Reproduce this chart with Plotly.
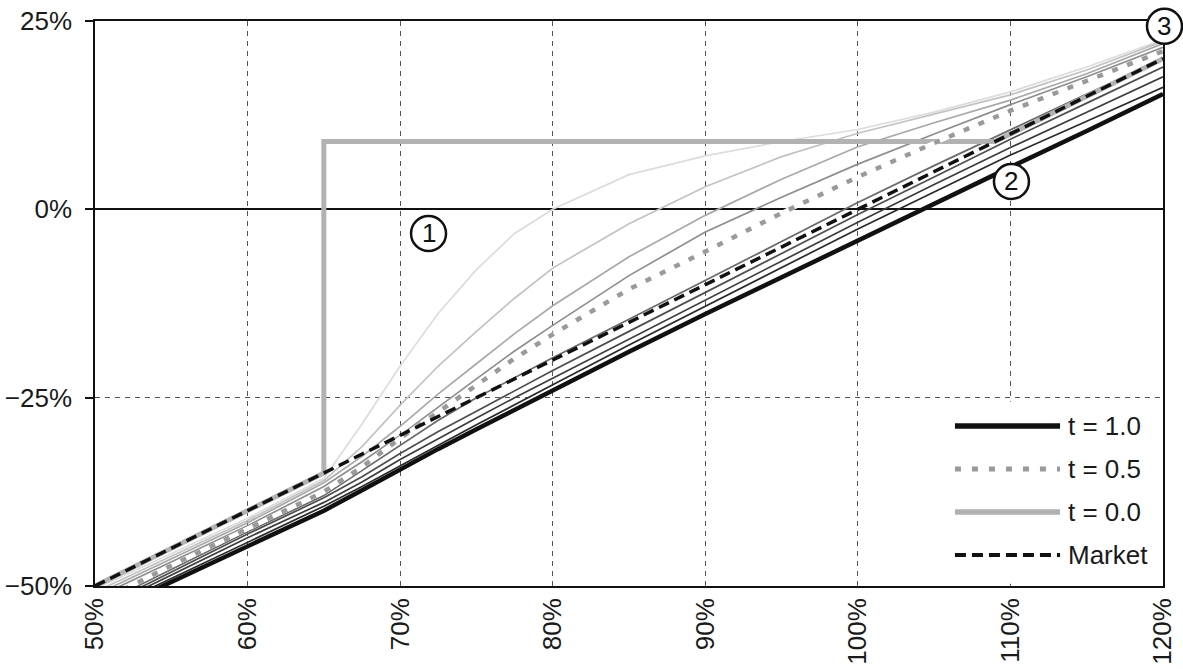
import plotly.graph_objects as go

# ---------------- data ----------------
spot_pct = [50, 55, 60, 65, 67.5, 70, 72.5, 75, 77.5, 80, 85, 90, 95, 100, 105, 110, 115, 120]

t_1_0 = [-54.2, -49.5, -44.8, -40.0, -37.3, -34.5, -31.8, -29.2, -26.6, -24.0, -18.9, -13.9, -9.0, -4.2, 0.7, 5.6, 10.4, 15.3]
t_0_9 = [-53.8, -49.0, -44.1, -39.4, -36.8, -34.0, -31.3, -28.6, -25.9, -23.3, -18.0, -12.9, -7.7, -2.6, 2.3, 7.2, 11.7, 16.2]
t_0_8 = [-53.5, -48.6, -43.6, -38.9, -36.2, -33.2, -30.4, -27.7, -25.0, -22.4, -17.2, -12.0, -6.8, -1.7, 3.3, 8.2, 12.9, 17.6]
t_0_7 = [-53.2, -48.2, -43.1, -38.3, -35.5, -32.4, -29.5, -26.8, -24.1, -21.4, -16.2, -11.0, -5.8, -0.7, 4.3, 9.3, 14.1, 18.9]
t_0_6 = [-52.8, -47.8, -42.8, -38.0, -34.7, -31.3, -28.0, -25.0, -22.3, -19.7, -14.6, -9.4, -4.2, 0.9, 5.8, 10.6, 15.3, 19.9]
t_0_5 = [-52.4, -47.3, -42.4, -37.5, -34.2, -30.4, -26.9, -23.3, -19.8, -16.6, -10.6, -5.6, -0.5, 4.3, 8.8, 13.1, 17.0, 21.0]
t_0_4 = [-51.6, -46.8, -42.0, -36.8, -33.5, -30.0, -26.2, -22.5, -18.8, -15.4, -8.8, -3.0, 1.6, 6.0, 10.0, 13.9, 17.6, 21.5]
t_0_3 = [-51.2, -46.4, -41.6, -36.3, -32.8, -28.8, -24.5, -20.5, -16.5, -12.8, -6.3, -0.8, 4.0, 8.3, 11.5, 14.5, 18.0, 22.0]
t_0_2 = [-50.8, -46.0, -41.3, -36.0, -31.5, -26.0, -20.8, -16.2, -11.8, -7.8, -1.9, 3.0, 7.0, 10.1, 12.7, 15.2, 18.5, 22.3]
t_0_1 = [-50.4, -45.7, -41.0, -35.7, -28.5, -20.8, -13.8, -8.0, -3.2, 0.0, 4.6, 7.1, 9.0, 10.6, 12.9, 15.6, 18.9, 22.5]

t_0_0_x = [50, 65, 65, 109, 120]
t_0_0_y = [-50, -35, 9, 9, 20]

market_x = [50, 120]
market_y = [-50, 20]

x_ticks = [50, 60, 70, 80, 90, 100, 110, 120]
x_tick_labels = ["50%", "60%", "70%", "80%", "90%", "100%", "110%", "120%"]
y_ticks = [-50, -25, 0, 25]
y_tick_labels = ["\u221250%", "\u221225%", "0%", "25%"]

legend_labels = ["t = 1.0", "t = 0.5", "t = 0.0", "Market"]
marker_labels = ["1", "2", "3"]

# ---------------- styling ----------------
FONT = "Liberation Sans, Arial, Helvetica, sans-serif"
FS = 26
fig = go.Figure()

thin_curves = [
    (t_0_1, "#dcdcdc"),
    (t_0_2, "#c2c2c2"),
    (t_0_3, "#a8a8a8"),
    (t_0_4, "#8e8e8e"),
    (t_0_6, "#6a6a6a"),
    (t_0_7, "#4e4e4e"),
    (t_0_8, "#3c3c3c"),
    (t_0_9, "#2a2a2a"),
]
for ys, col in thin_curves:
    fig.add_trace(go.Scatter(x=spot_pct, y=ys, mode="lines",
                             line=dict(color=col, width=1.7), showlegend=False, hoverinfo="skip"))

# t = 0.0 payoff (thick gray)
fig.add_trace(go.Scatter(x=t_0_0_x, y=t_0_0_y, mode="lines",
                         line=dict(color="#b2b2b5", width=5), showlegend=False, hoverinfo="skip"))
# t = 1.0 (thick black)
fig.add_trace(go.Scatter(x=spot_pct, y=t_1_0, mode="lines",
                         line=dict(color="#111111", width=4.5), showlegend=False, hoverinfo="skip"))
# t = 0.5 (dotted, white underlay)
fig.add_trace(go.Scatter(x=spot_pct, y=t_0_5, mode="lines",
                         line=dict(color="white", width=4.5), showlegend=False, hoverinfo="skip"))
fig.add_trace(go.Scatter(x=spot_pct, y=t_0_5, mode="lines",
                         line=dict(color="#9a9a9a", width=4.5, dash="6px,10px"),
                         showlegend=False, hoverinfo="skip"))
# Market (dashed black)
fig.add_trace(go.Scatter(x=market_x, y=market_y, mode="lines",
                         line=dict(color="#111111", width=3.5, dash="11px,6px"),
                         showlegend=False, hoverinfo="skip"))

# ---------------- custom legend ----------------
shapes = []
annotations = []
shapes.append(dict(type="rect", xref="paper", yref="paper", x0=0.79, x1=0.997, y0=0.004, y1=0.326,
                   fillcolor="white", line=dict(width=0), layer="above"))
leg_rows = [0.2832, 0.2071, 0.1310, 0.0549]
leg_styles = [
    dict(color="#111111", width=5.5),
    dict(color="#9a9a9a", width=5, dash="6px,11px"),
    dict(color="#b2b2b5", width=5.5),
    dict(color="#111111", width=4, dash="11px,6px"),
]
for yrow, sty, lab in zip(leg_rows, leg_styles, legend_labels):
    shapes.append(dict(type="line", xref="paper", yref="paper", x0=0.8052, x1=0.9036,
                       y0=yrow, y1=yrow, line=sty, layer="above"))
    annotations.append(dict(xref="paper", yref="paper", x=0.909, y=yrow, text=lab,
                            showarrow=False, xanchor="left", yanchor="middle",
                            font=dict(family=FONT, size=FS, color="#1a1a1a")))

# ---------------- circled markers ----------------
circ_pos = [(0.3123, 0.6239), (0.8581, 0.7161), (1.0014, 0.9906)]
for (px, py), lab in zip(circ_pos, marker_labels):
    shapes.append(dict(type="circle", xref="paper", yref="paper",
                       xsizemode="pixel", ysizemode="pixel", xanchor=px, yanchor=py,
                       x0=-17.5, x1=17.5, y0=-17.5, y1=17.5,
                       line=dict(color="#111111", width=2.5), fillcolor="white", layer="above"))
    annotations.append(dict(xref="paper", yref="paper", x=px, y=py, text=lab, showarrow=False,
                            xanchor="center", yanchor="middle",
                            font=dict(family=FONT, size=FS, color="#111111")))

fig.update_layout(
    width=1183, height=669,
    margin=dict(l=95, r=20, t=21, b=83, autoexpand=False),
    paper_bgcolor="white", plot_bgcolor="white",
    font=dict(family=FONT, size=FS, color="#1a1a1a"),
    shapes=shapes, annotations=annotations,
    showlegend=False,
)
fig.update_xaxes(
    range=[50, 120], tickvals=x_ticks, ticktext=x_tick_labels, tickangle=-90,
    showgrid=True, gridcolor="#555555", gridwidth=1, griddash="5px,5px",
    showline=True, mirror=True, linecolor="#111111", linewidth=1.5,
    ticks="", zeroline=False, ticklabelstandoff=0, automargin=False,
    tickfont=dict(family=FONT, size=FS, color="#1a1a1a"),
)
fig.update_yaxes(
    range=[-50, 25], tickvals=y_ticks, ticktext=y_tick_labels,
    showgrid=True, gridcolor="#555555", gridwidth=1, griddash="5px,5px",
    showline=True, mirror=True, linecolor="#111111", linewidth=1.5,
    ticks="outside", ticklen=8, tickcolor="#111111", tickwidth=1.5,
    zeroline=True, zerolinecolor="#111111", zerolinewidth=1.5, ticklabelstandoff=8,
    automargin=False,
    tickfont=dict(family=FONT, size=FS, color="#1a1a1a"),
)

fig.write_html("out.html", config={"displayModeBar": False},
               post_script="document.body.style.margin='0';document.body.style.overflow='hidden';")
